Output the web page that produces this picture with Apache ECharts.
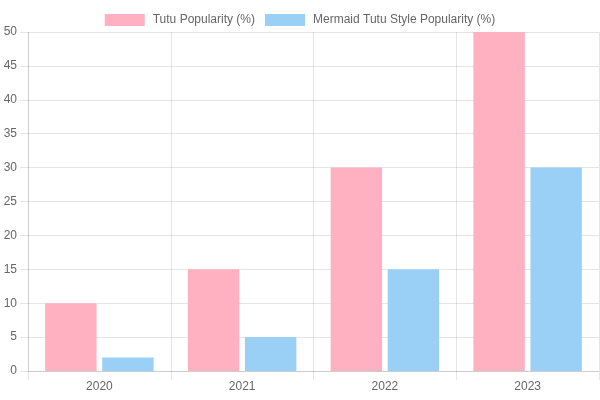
<!DOCTYPE html>
<html>
<head>
<meta charset="utf-8">
<script src="https://cdn.jsdelivr.net/npm/echarts@6/dist/echarts.min.js"></script>
<style>
  html, body { margin: 0; padding: 0; background: #fff; }
  #chart { width: 600px; height: 400px; }
</style>
</head>
<body>
<div id="chart"></div>
<script>
// data
const years = ['2020', '2021', '2022', '2023'];
const tutuPopularity = [10, 15, 30, 50];
const mermaidPopularity = [2, 5, 15, 30];
const yTicks = { min: 0, max: 50, interval: 5 };

const gridColor = 'rgba(0,0,0,0.1)';
const textColor = '#666';
const font = 'Liberation Sans, Arial, Helvetica, sans-serif';

const chart = echarts.init(document.getElementById('chart'));

chart.setOption({
  animation: false,
  textStyle: { fontFamily: font },
  legend: {
    top: 9,
    left: 'center',
    itemWidth: 40,
    itemHeight: 12,
    itemGap: 10,
    icon: 'rect',
    textStyle: { color: textColor, fontSize: 12, fontFamily: font, padding: [0, 0, 0, 3] },
    data: ['Tutu Popularity (%)', 'Mermaid Tutu Style Popularity (%)']
  },
  grid: { left: 28, right: 1, top: 32, bottom: 29, containLabel: false },
  xAxis: {
    type: 'category',
    data: years,
    axisLine: { show: true, lineStyle: { color: gridColor } },
    axisTick: { show: true, length: 9, lineStyle: { color: gridColor } },
    splitLine: { show: true, lineStyle: { color: gridColor } },
    axisLabel: { color: textColor, fontSize: 12, margin: 10 }
  },
  yAxis: {
    type: 'value',
    min: yTicks.min,
    max: yTicks.max,
    interval: yTicks.interval,
    axisLine: { show: true, lineStyle: { color: gridColor } },
    axisTick: { show: true, length: 8, lineStyle: { color: gridColor } },
    splitLine: { show: true, lineStyle: { color: gridColor } },
    axisLabel: { color: textColor, fontSize: 12, margin: 11 }
  },
  series: [
    {
      name: 'Tutu Popularity (%)',
      type: 'bar',
      data: tutuPopularity,
      barGap: '11%',
      barCategoryGap: '24%',
      itemStyle: { color: '#ffb1c1' }
    },
    {
      name: 'Mermaid Tutu Style Popularity (%)',
      type: 'bar',
      data: mermaidPopularity,
      itemStyle: { color: '#9ad0f5' }
    }
  ]
});
</script>
</body>
</html>
